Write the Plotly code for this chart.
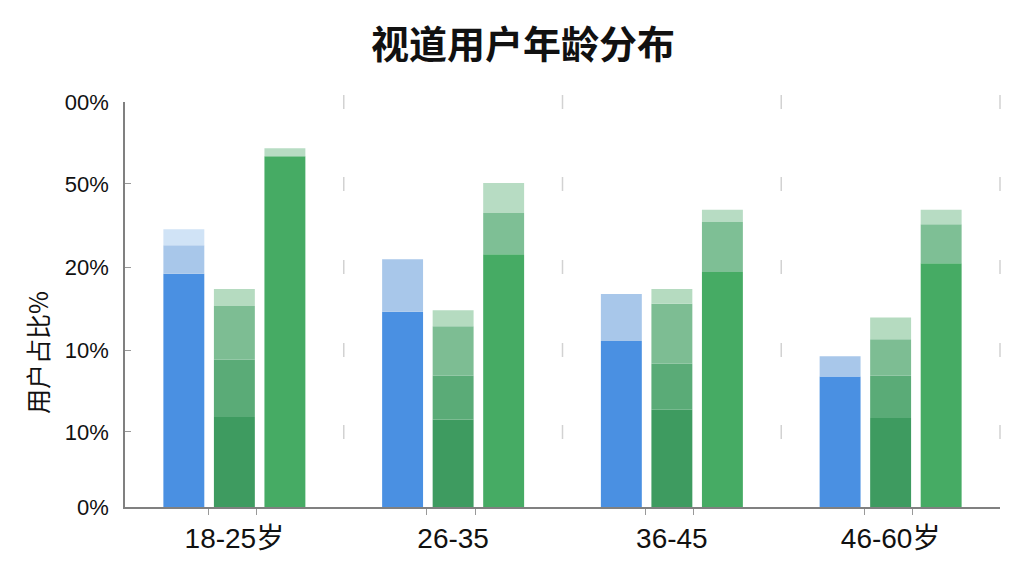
import plotly.graph_objects as go

ages = ["18-25岁", "26-35", "36-45", "46-60岁"]

# y 轴刻度（原图标签就是这样）
y_tick_pos = [0, 9.26, 19.38, 29.63, 39.88, 50]
y_tick_text = ["0%", "10%", "10%", "20%", "50%", "00%"]

# 🔹 蓝色柱：各层顶部
blue_tops = [
    [28.8, 24.1, 20.5, 16.1],
    [32.3, 30.6, 26.3, 18.6],
    [34.3, 30.6, 26.3, 18.6],
]

# 🔹 中间绿色柱：各层顶部
mid_tops = [
    [11.1, 10.8, 12.0, 11.0],
    [18.2, 16.2, 17.7, 16.2],
    [24.8, 22.3, 25.1, 20.7],
    [26.9, 24.3, 26.9, 23.4],
]

# 🔹 右侧绿色柱：各层顶部
right_tops = [
    [43.3, 31.2, 29.0, 30.1],
    [43.3, 36.3, 35.2, 34.9],
    [44.3, 40.0, 36.7, 36.7],
]

blue_colors = ["#4a90e2", "#a8c7ea", "#d0e3f6"]
mid_colors = ["#3e9b60", "#5aab77", "#7dbd93", "#b5dbc0"]
right_colors = ["#46ab64", "#7ebf95", "#b7dcc3"]

FONT = "Liberation Sans, Noto Sans CJK SC, sans-serif"
xs = list(range(len(ages)))

fig = go.Figure()


def add_stack(tops, colors, group):
    prev = [0] * len(ages)
    for row, color in zip(tops, colors):
        fig.add_bar(
            x=xs,
            y=[t - p for t, p in zip(row, prev)],
            base=prev,
            offsetgroup=group,
            marker=dict(color=color, line_width=0),
            showlegend=False,
        )
        prev = row


add_stack(blue_tops, blue_colors, "blue")
add_stack(mid_tops, mid_colors, "mid")
add_stack(right_tops, right_colors, "right")

# 分隔处的短虚线标记
sep_x = [i + 0.5 for i in xs]
fig.add_scatter(
    x=[x for x in sep_x for _ in y_tick_pos[1:]],
    y=[y for _ in sep_x for y in y_tick_pos[1:]],
    mode="markers",
    marker=dict(symbol="line-ns", size=10, line=dict(color="#d2d2d2", width=1.5)),
    showlegend=False,
    hoverinfo="skip",
    cliponaxis=False,
)

# 页面 body 自带 8px 边距，所以画布缩小 8px
fig.update_layout(
    width=1016,
    height=568,
    paper_bgcolor="white",
    plot_bgcolor="white",
    barmode="group",
    bargap=0.307,
    bargroupgap=0.19,
    margin=dict(l=117, r=24, t=94, b=69),
    title=dict(
        text="视道用户年龄分布",
        x=(523 - 8) / 1016,
        xanchor="center",
        y=1 - 37 / 568,
        yanchor="middle",
        font=dict(family="Noto Sans CJK SC", size=38, color="#111111", weight=700),
    ),
    font=dict(family=FONT, color="#111111"),
    annotations=[
        dict(
            text="用户占比%",
            xref="paper",
            yref="paper",
            x=-88 / 875,
            y=(507 - 353) / 405,
            xanchor="center",
            yanchor="middle",
            showarrow=False,
            textangle=-90,
            font=dict(family="Noto Sans CJK SC", size=25, color="#111111"),
        )
    ],
)

fig.update_xaxes(
    range=[-0.5, 3.5],
    tickvals=xs,
    ticktext=ages,
    ticks="",
    tickfont=dict(size=28, color="#111111"),
    ticklabelstandoff=6,
    showline=True,
    linecolor="#808080",
    linewidth=1.5,
    showgrid=False,
    zeroline=False,
    minor=dict(
        tickvals=[c + d for c in xs for d in (-0.12, 0.10)],
        ticks="outside",
        ticklen=6,
        tickcolor="#999999",
        showgrid=False,
    ),
)

fig.update_yaxes(
    range=[0, 50],
    tickvals=y_tick_pos,
    ticktext=y_tick_text,
    ticks="inside",
    ticklen=6,
    tickcolor="#999999",
    tickfont=dict(size=22, color="#111111"),
    ticklabelstandoff=10,
    showline=True,
    linecolor="#808080",
    linewidth=1.5,
    showgrid=False,
    zeroline=False,
)

fig.write_html("out.html")
